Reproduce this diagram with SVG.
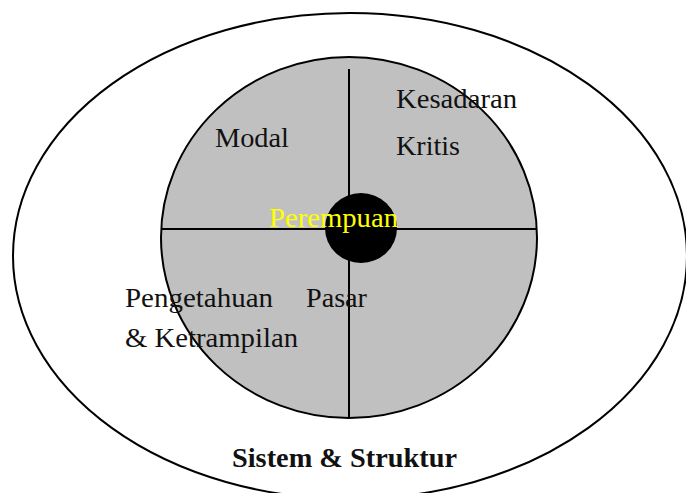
<svg xmlns="http://www.w3.org/2000/svg" width="686" height="493" viewBox="0 0 686 493">
  <style>
    .lbl { font-family: "Liberation Serif", "Times New Roman", Times, serif; font-size: 27px; fill: #111111; }
    .bold { font-family: "Liberation Serif", "Times New Roman", Times, serif; font-size: 27px; font-weight: bold; fill: #111111; }
    .yel { font-family: "Liberation Serif", "Times New Roman", Times, serif; font-size: 27px; fill: #ffff00; }
    .line { stroke: #000000; stroke-width: 2; fill: none; }
  </style>
  <rect x="0" y="0" width="686" height="493" fill="#ffffff"/>
  <g id="sistem-struktur">
    <ellipse cx="350" cy="256" rx="337" ry="243" fill="#ffffff" stroke="#000000" stroke-width="2"/>
  </g>
  <g id="inner-circle">
    <ellipse cx="349" cy="237.5" rx="188" ry="180.5" fill="#c0c0c0" stroke="#000000" stroke-width="2"/>
  </g>
  <g id="connectors">
    <line class="line" x1="349" y1="69" x2="349" y2="418"/>
    <line class="line" x1="162" y1="229" x2="537" y2="229"/>
  </g>
  <g id="perempuan">
    <ellipse cx="361" cy="228" rx="36" ry="35" fill="#000000"/>
    <text class="yel" x="269" y="226.7" textLength="129" lengthAdjust="spacingAndGlyphs">Perempuan</text>
  </g>
  <g id="modal">
    <text class="lbl" x="215" y="147.3" textLength="74" lengthAdjust="spacingAndGlyphs">Modal</text>
  </g>
  <g id="kesadaran-kritis">
    <text class="lbl" x="396" y="108.3" textLength="121" lengthAdjust="spacingAndGlyphs">Kesadaran</text>
    <text class="lbl" x="396" y="155" textLength="64" lengthAdjust="spacingAndGlyphs">Kritis</text>
  </g>
  <g id="pengetahuan">
    <text class="lbl" x="125" y="306.7" textLength="148" lengthAdjust="spacingAndGlyphs">Pengetahuan</text>
    <text class="lbl" x="125" y="346.7" textLength="173" lengthAdjust="spacingAndGlyphs">&amp; Ketrampilan</text>
  </g>
  <g id="pasar">
    <text class="lbl" x="306" y="306.7" textLength="61" lengthAdjust="spacingAndGlyphs">Pasar</text>
  </g>
  <g id="label-sistem">
    <text class="bold" x="232" y="466.7" textLength="225" lengthAdjust="spacingAndGlyphs">Sistem &amp; Struktur</text>
  </g>
</svg>
